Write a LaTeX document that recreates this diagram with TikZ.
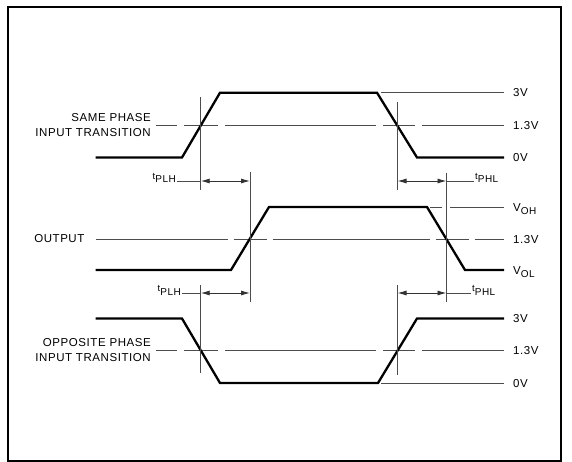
\documentclass[tikz,border=0pt]{standalone}
\usepackage{fontspec}
\setmainfont{Liberation Sans}[LetterSpace=5]
\usetikzlibrary{arrows.meta,positioning,calc}

\newcommand{\lowsub}[1]{\raisebox{-3.5pt}{\fontsize{10}{10}\selectfont #1}}

\begin{document}
\begin{tikzpicture}[x=1pt, y=-1pt,
    wave/.style={line width=2.3pt, line join=miter, black},
    guide/.style={line width=0.9pt, black!70},
    dimline/.style={line width=0.9pt, black!80, {Latex[length=9pt,width=5pt]}-{Latex[length=9pt,width=5pt]}},
    lbl/.style={font=\fontsize{11.5}{14.3}\selectfont, inner sep=0pt},
    tlbl/.style={font=\fontsize{9.5}{12}\selectfont, inner sep=1pt},
    vlbl/.style={lbl, anchor=west, inner xsep=9pt, text height=8.2pt, text depth=0pt}
  ]
    \useasboundingbox (0,0) rectangle (572,462);
    \draw [line width=1.5pt] (8,7) rectangle (561,461);

    % Level labels on the right
    \node [vlbl] (r3a) at (504,92.7) {3V};
    \node [vlbl] (r13a) at (504,125) {1.3V};
    \node [vlbl] (r0a) at (504,157.5) {0V};
    \node [vlbl] (roh) at (504,207) {V\lowsub{OH}};
    \node [vlbl] (r13b) at (504,239) {1.3V};
    \node [vlbl] (rol) at (504,270) {V\lowsub{OL}};
    \node [vlbl] (r3c) at (504,318.5) {3V};
    \node [vlbl] (r13c) at (504,350) {1.3V};
    \node [vlbl] (r0c) at (504,383) {0V};

    % Waveform names on the left
    \node [lbl, align=right, anchor=east, inner xsep=5pt] (same) at (156,125) {SAME PHASE\\INPUT TRANSITION};
    \node [lbl, anchor=east, inner xsep=11pt] (outp) at (95.6,239) {OUTPUT};
    \node [lbl, align=right, anchor=east, inner xsep=5pt] (opp) at (156,350) {OPPOSITE PHASE\\INPUT TRANSITION};

    % 1.3V reference lines
    \draw [guide, dash pattern=on 21pt off 7pt on 34pt off 7pt on 151pt off 7pt on 32pt off 7pt on 120pt]
        (same.east) -- (same.east -| r13a.west);
    \draw [guide, dash pattern=on 132pt off 6pt on 33pt off 6pt on 157pt off 6pt on 33pt off 6pt on 100pt]
        (outp.east) -- (outp.east -| r13b.west);
    \draw [guide, dash pattern=on 21pt off 7pt on 34pt off 7pt on 151pt off 7pt on 32pt off 7pt on 120pt]
        (opp.east) -- (opp.east -| r13c.west);

    % Other reference levels
    \draw [guide] (381,92.7) -- (r3a.west);
    \draw [guide, dash pattern=on 12pt off 8pt on 70pt] (430,207) -- (roh.west);
    \draw [guide] (381,383) -- (r0c.west);

    % Waveforms
    \draw [wave] (95.6,157.5) -- (182,157.5) -- (220,92.7) -- (377,92.7) -- (417,157.5) -- (r0a.west);
    \draw [wave] (95.6,270) -- (231,270) -- (269,207) -- (427,207) -- (465,270) -- (rol.west);
    \draw [wave] (95.6,318.5) -- (182,318.5) -- (220,383) -- (378,383) -- (417,318.5) -- (r3c.west);

    % Vertical markers at the 1.3V crossings
    \draw [guide] (200.7,97) -- (200.7,190);
    \draw [guide] (397.5,102) -- (397.5,190);
    \draw [guide] (250,172) -- (250,302);
    \draw [guide] (446.5,173) -- (446.5,302);
    \draw [guide] (200.7,285) -- (200.7,373);
    \draw [guide] (397.5,285) -- (397.5,375);

    % Delay dimensions, upper row
    \coordinate (plhA) at (200.7,181);
    \coordinate (plhB) at (250,181);
    \coordinate (phlA) at (397.5,181);
    \coordinate (phlB) at (446.5,181);
    \node [tlbl, anchor=base east] (tplhup) at (177,179.5) {t\lowsub{PLH}};
    \draw [guide] (tplhup.east |- plhA) -- (plhA);
    \draw [dimline] (plhA) -- (plhB);
    \draw [dimline] (phlA) -- (phlB);
    \node [tlbl, anchor=base west] (tphlup) at (474,179.5) {t\lowsub{PHL}};
    \draw [guide] (phlB) -- (phlB -| tphlup.west);

    % Delay dimensions, lower row
    \coordinate (plhC) at (200.7,293);
    \coordinate (plhD) at (250,293);
    \coordinate (phlC) at (397.5,293);
    \coordinate (phlD) at (446.5,293);
    \node [tlbl, anchor=base east] (tplhlo) at (182,291.5) {t\lowsub{PLH}};
    \draw [guide] (tplhlo.east |- plhC) -- (plhC);
    \draw [dimline] (plhC) -- (plhD);
    \draw [dimline] (phlC) -- (phlD);
    \node [tlbl, anchor=base west] (tphllo) at (471,291.5) {t\lowsub{PHL}};
    \draw [guide] (phlD) -- (phlD -| tphllo.west);

\end{tikzpicture}
\end{document}
